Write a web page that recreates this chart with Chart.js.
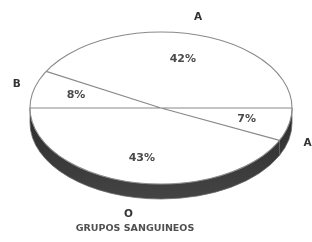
<!DOCTYPE html>
<html>
<head>
<meta charset="utf-8">
<script src="https://cdn.jsdelivr.net/npm/chart.js@4.4.1/dist/chart.umd.min.js"></script>
<style>
    html, body { margin: 0; padding: 0; background: #fff; }
    #wrap { width: 312px; height: 242px; }
</style>
</head>
<body>
<div id="wrap"><canvas id="grupos-chart" width="312" height="242"></canvas></div>
<script>
// datos (empieza a las 3 en punto, sentido horario)
const grupos = ["AB", "O", "B", "A"];
const porcentajes = [7, 43, 8, 42];
const titulo = "GRUPOS SANGUINEOS";

// geometria del pastel 3D (elipse)
const CX = 161, CY = 108, RX = 131, RY = 76, DEPTH = 15;

const setElipse = (ctx, arc) => {
    const r = arc.outerRadius;
    ctx.translate(CX, CY);
    ctx.scale(RX / r, RY / r);
    ctx.translate(-arc.x, -arc.y);
};

const pastel3d = {
    id: "pastel3d",
    beforeDatasetsDraw(chart) {
        const ctx = chart.ctx;
        const arcs = chart.getDatasetMeta(0).data;
        // costado oscuro
        ctx.save();
        arcs.forEach((arc) => {
            const a0 = Math.max(arc.startAngle, 0);
            const a1 = Math.min(arc.endAngle, Math.PI);
            if (a0 >= a1) return;
            ctx.beginPath();
            ctx.ellipse(CX, CY, RX, RY, 0, a0, a1);
            ctx.ellipse(CX, CY + DEPTH, RX, RY, 0, a1, a0, true);
            ctx.closePath();
            const g = ctx.createLinearGradient(0, CY, 0, CY + RY + DEPTH);
            g.addColorStop(0, "#2b2b2b");
            g.addColorStop(1, "#444444");
            ctx.fillStyle = g;
            ctx.fill();
            ctx.strokeStyle = "#6a6a6a";
            ctx.lineWidth = 0.8;
            ctx.stroke();
        });
        ctx.restore();
        ctx.save();
        setElipse(ctx, arcs[0]);
    },
    afterDatasetsDraw(chart) {
        const ctx = chart.ctx;
        ctx.restore();
        const arcs = chart.getDatasetMeta(0).data;

        // bordes de las porciones
        ctx.save();
        ctx.beginPath();
        arcs.forEach((arc) => {
            ctx.moveTo(CX, CY);
            ctx.lineTo(CX + RX * Math.cos(arc.startAngle), CY + RY * Math.sin(arc.startAngle));
        });
        ctx.moveTo(CX + RX, CY);
        ctx.ellipse(CX, CY, RX, RY, 0, 0, Math.PI * 2);
        ctx.strokeStyle = "#8a8a8a";
        ctx.lineWidth = 1.1;
        ctx.stroke();

        // textos
        ctx.textBaseline = "middle";
        arcs.forEach((arc, i) => {
            const mid = (arc.startAngle + arc.endAngle) / 2;
            const c = Math.cos(mid), s = Math.sin(mid);
            ctx.textAlign = "center";
            ctx.font = "bold 11px 'DejaVu Sans'";
            ctx.fillStyle = "#4a4a4a";
            ctx.fillText(porcentajes[i] + "%", CX + RX * 0.67 * c, CY + RY * 0.67 * s);

            let lx = CX + (RX + 18) * c;
            const ly = CY + (RY + 18) * s + (s > 0 ? DEPTH : 0);
            ctx.font = "bold 10.5px 'DejaVu Sans'";
            ctx.fillStyle = "#333";
            if (lx > 300) {
                // la etiqueta queda cortada por el borde, como en el original
                ctx.textAlign = "left";
                lx = 303.5;
            }
            ctx.fillText(grupos[i], lx, ly);
        });

        ctx.textAlign = "center";
        ctx.font = "bold 9.5px 'DejaVu Sans'";
        ctx.fillStyle = "#505050";
        ctx.fillText(titulo, 135, 229);
        ctx.restore();
    },
};

const initChart = () => {
    const ctx = document.querySelector("#grupos-chart");
    return new Chart(ctx, {
        type: "pie",
        data: {
            labels: grupos,
            datasets: [
                {
                    data: porcentajes,
                    backgroundColor: "#ffffff",
                    borderWidth: 0,
                },
            ],
        },
        options: {
            responsive: false,
            animation: false,
            rotation: 90,
            plugins: {
                legend: { display: false },
                tooltip: { enabled: false },
            },
        },
        plugins: [pastel3d],
    });
};

window.gruposChart = initChart();
</script>
</body>
</html>
